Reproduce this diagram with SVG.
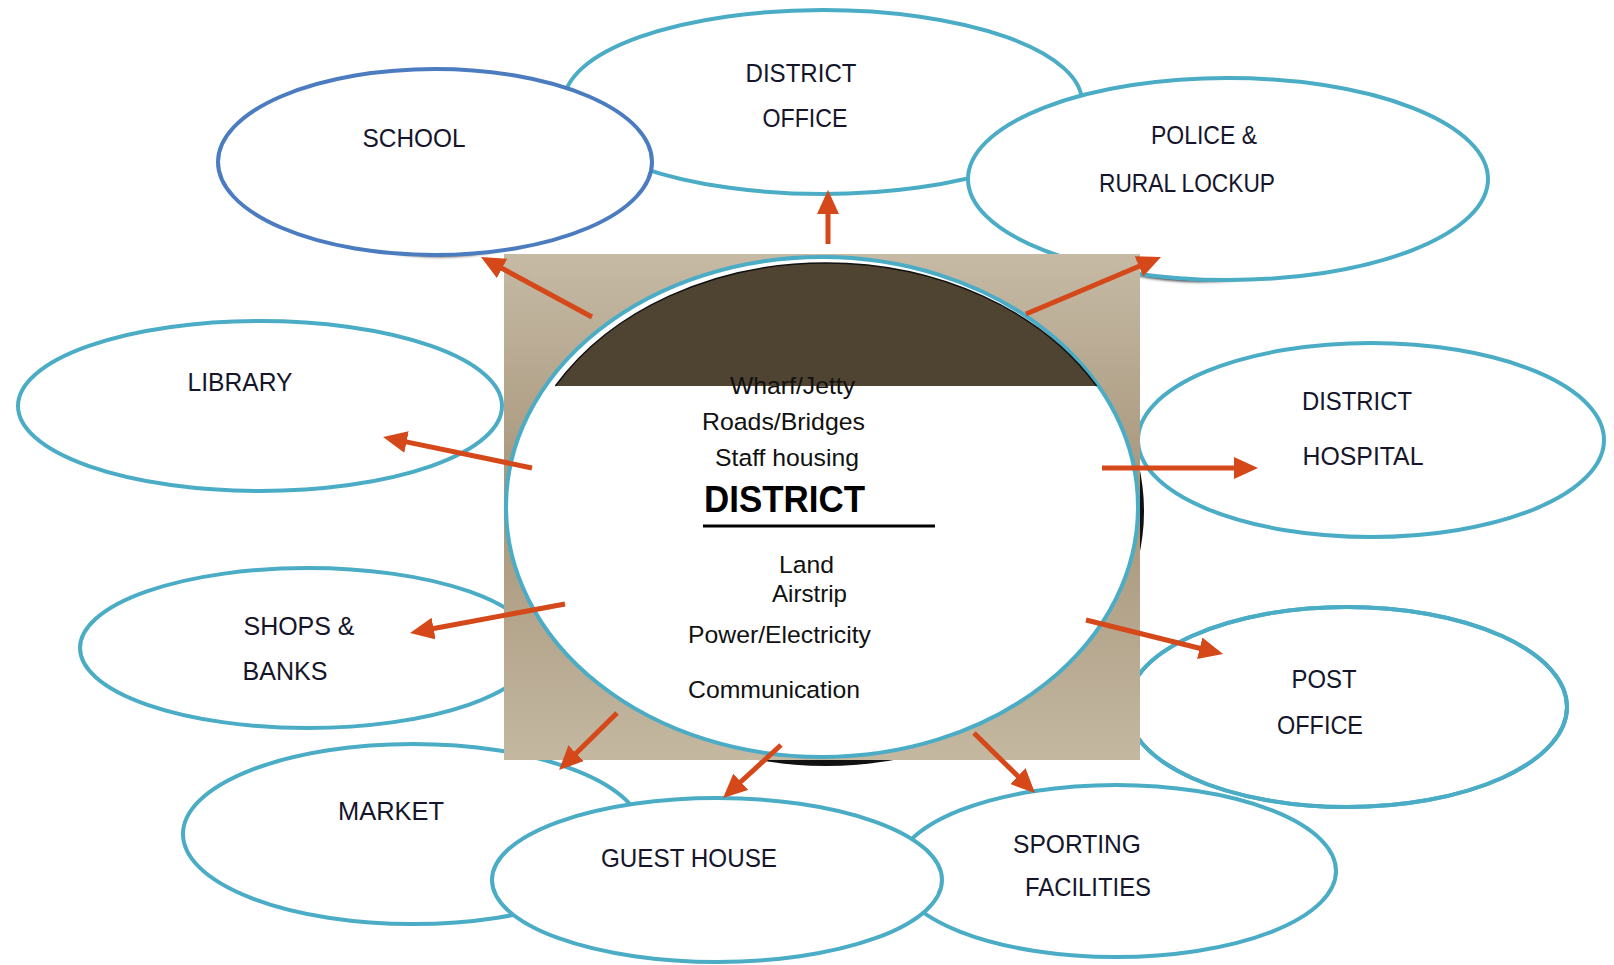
<svg xmlns="http://www.w3.org/2000/svg" width="1614" height="965" viewBox="0 0 1614 965">
<style>
.node{fill:#fff;stroke:#4BACC6;stroke-width:4}
.school{fill:#fff;stroke:#4C7CC0;stroke-width:4}
.lbl{font-family:"Liberation Sans",Arial,sans-serif;font-size:26px;fill:#15152b;text-anchor:middle}
.inner{font-family:"Liberation Sans",Arial,sans-serif;font-size:24.5px;fill:#111}
.conn{stroke:#D4481A;stroke-width:5;fill:none;marker-end:url(#ah)}
</style>
<defs>
<linearGradient id="bg" x1="0" y1="0" x2="0" y2="1">
<stop offset="0" stop-color="#C6BAA5"/>
<stop offset="0.48" stop-color="#A6957A"/>
<stop offset="1" stop-color="#C4B8A1"/>
</linearGradient>
<filter id="blur" x="-10%" y="-10%" width="120%" height="130%"><feGaussianBlur stdDeviation="1.5"/></filter>
<marker id="ah" viewBox="0 0 24 22" refX="4" refY="11" markerWidth="24" markerHeight="22" markerUnits="userSpaceOnUse" orient="auto">
<path d="M0,0 L24,11 L0,22 Z" fill="#D4481A"/>
</marker>
</defs>

<g id="district-office">
<ellipse class="node" cx="823" cy="102" rx="259" ry="92"/>
<text class="lbl" x="801" y="82" textLength="111" lengthAdjust="spacingAndGlyphs">DISTRICT</text>
<text class="lbl" x="805" y="127" textLength="85" lengthAdjust="spacingAndGlyphs">OFFICE</text>
</g>
<g id="school">
<ellipse cx="440" cy="165" rx="160" ry="92" fill="#333" filter="url(#blur)"/>
<ellipse class="school" cx="435" cy="162" rx="217" ry="93"/>
<text class="lbl" x="414" y="147" textLength="103" lengthAdjust="spacingAndGlyphs">SCHOOL</text>
</g>
<g id="police">
<ellipse cx="1200" cy="182" rx="180" ry="100" fill="#333" filter="url(#blur)"/>
<ellipse class="node" cx="1228" cy="179" rx="260" ry="101"/>
<text class="lbl" x="1204" y="144" textLength="106" lengthAdjust="spacingAndGlyphs">POLICE &amp;</text>
<text class="lbl" x="1187" y="192" textLength="176" lengthAdjust="spacingAndGlyphs">RURAL LOCKUP</text>
</g>
<g id="library">
<ellipse class="node" cx="260" cy="406" rx="242" ry="85"/>
<text class="lbl" x="240" y="391" textLength="105" lengthAdjust="spacingAndGlyphs">LIBRARY</text>
</g>
<g id="hospital">
<ellipse class="node" cx="1371" cy="440" rx="233" ry="97"/>
<text class="lbl" x="1357" y="410" textLength="110" lengthAdjust="spacingAndGlyphs">DISTRICT</text>
<text class="lbl" x="1363" y="465" textLength="121" lengthAdjust="spacingAndGlyphs">HOSPITAL</text>
</g>
<g id="shops">
<ellipse class="node" cx="308" cy="648" rx="228" ry="80"/>
<text class="lbl" x="299" y="635" textLength="111" lengthAdjust="spacingAndGlyphs">SHOPS &amp;</text>
<text class="lbl" x="285" y="680" textLength="85" lengthAdjust="spacingAndGlyphs">BANKS</text>
</g>
<g id="post-office">
<ellipse class="node" cx="1347" cy="707" rx="220" ry="100"/>
<text class="lbl" x="1324" y="688" textLength="65" lengthAdjust="spacingAndGlyphs">POST</text>
<text class="lbl" x="1320" y="734" textLength="86" lengthAdjust="spacingAndGlyphs">OFFICE</text>
</g>
<g id="market">
<ellipse class="node" cx="413" cy="834" rx="230" ry="90"/>
<text class="lbl" x="391" y="820" textLength="106" lengthAdjust="spacingAndGlyphs">MARKET</text>
</g>
<g id="sporting">
<ellipse class="node" cx="1116" cy="871" rx="220" ry="86"/>
<ellipse cx="1347" cy="707" rx="220" ry="100" fill="none" stroke="#4BACC6" stroke-width="4"/>
<text class="lbl" x="1077" y="853" textLength="128" lengthAdjust="spacingAndGlyphs">SPORTING</text>
<text class="lbl" x="1088" y="896" textLength="126" lengthAdjust="spacingAndGlyphs">FACILITIES</text>
</g>
<g id="guest-house">
<ellipse class="node" cx="717" cy="880" rx="225" ry="82"/>
<text class="lbl" x="689" y="867" textLength="176" lengthAdjust="spacingAndGlyphs">GUEST HOUSE</text>
</g>

<g id="district">
<ellipse cx="826" cy="511" rx="318" ry="255" fill="#111"/>
<rect x="504" y="254" width="636" height="506" fill="url(#bg)"/>
<ellipse cx="822" cy="507" rx="316" ry="250" fill="#fff" stroke="#4BACC6" stroke-width="4"/>
<path d="M555.4,386 A312,245 0 0 1 1096.6,386 Z" fill="#4F4331"/>
<path d="M555.4,386 A312,245 0 0 1 1096.6,386" fill="none" stroke="#111" stroke-width="1.5"/>
<text class="inner" x="730" y="394" textLength="125" lengthAdjust="spacingAndGlyphs">Wharf/Jetty</text>
<text class="inner" x="702" y="430" textLength="163" lengthAdjust="spacingAndGlyphs">Roads/Bridges</text>
<text class="inner" x="715" y="466" textLength="144" lengthAdjust="spacingAndGlyphs">Staff housing</text>
<text x="704" y="512" font-family="Liberation Sans, Arial, sans-serif" font-size="36" font-weight="bold" fill="#000" textLength="161" lengthAdjust="spacingAndGlyphs">DISTRICT</text>
<line x1="703" y1="526" x2="935" y2="526" stroke="#000" stroke-width="3"/>
<text class="inner" x="779" y="573" textLength="55" lengthAdjust="spacingAndGlyphs">Land</text>
<text class="inner" x="772" y="602" textLength="75" lengthAdjust="spacingAndGlyphs">Airstrip</text>
<text class="inner" x="688" y="643" textLength="183" lengthAdjust="spacingAndGlyphs">Power/Electricity</text>
<text class="inner" x="688" y="698" textLength="172" lengthAdjust="spacingAndGlyphs">Communication</text>
</g>

<g id="connectors">
<line class="conn" x1="828" y1="244" x2="828" y2="210"/>
<line class="conn" x1="592" y1="317" x2="498.6" y2="266.5"/>
<line class="conn" x1="1026" y1="314" x2="1142.6" y2="264.8"/>
<line class="conn" x1="532" y1="468" x2="402.6" y2="441.1"/>
<line class="conn" x1="1102" y1="468" x2="1238" y2="468"/>
<line class="conn" x1="565" y1="604" x2="429.7" y2="629.3"/>
<line class="conn" x1="1086" y1="620" x2="1203.6" y2="649.2"/>
<line class="conn" x1="617" y1="713" x2="573.3" y2="756"/>
<line class="conn" x1="781" y1="745" x2="737.8" y2="784.5"/>
<line class="conn" x1="974" y1="733" x2="1020.7" y2="779"/>
</g>
</svg>
